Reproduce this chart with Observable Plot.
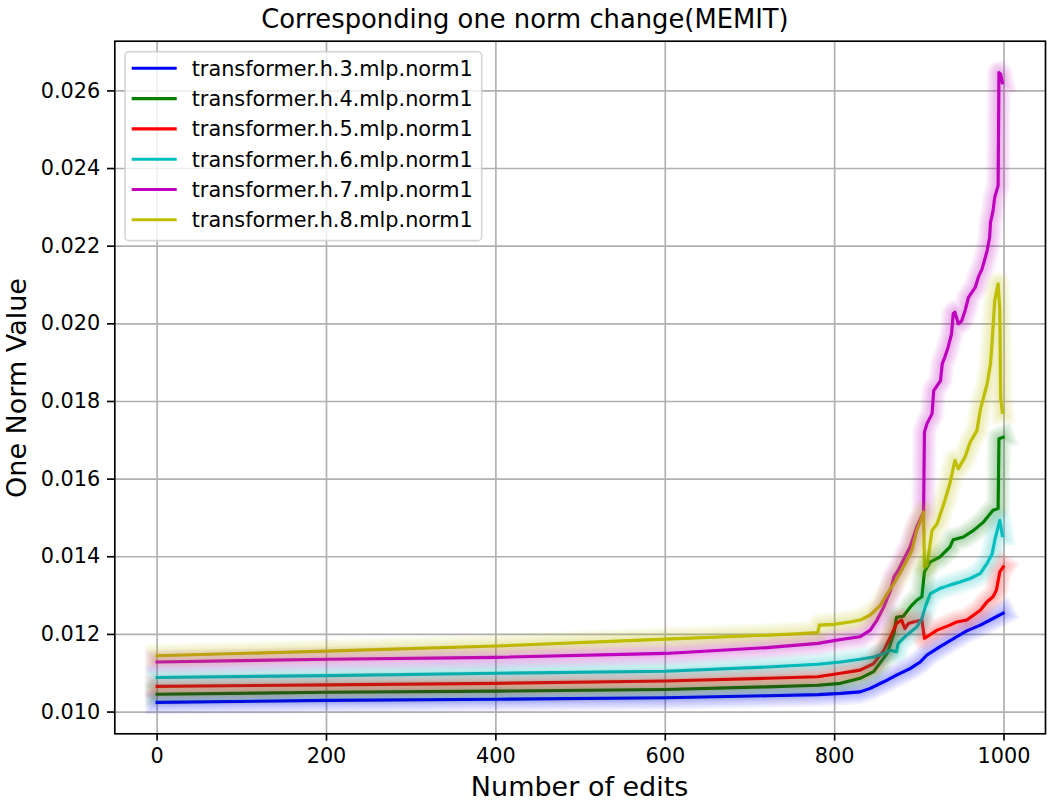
<!DOCTYPE html>
<html>
<head>
<meta charset="utf-8">
<script src="https://cdn.jsdelivr.net/npm/d3@7"></script>
<script src="https://cdn.jsdelivr.net/npm/@observablehq/plot@0.6"></script>
<style>
  body { margin: 0; background: #fff; }
  #chart { width: 1050px; height: 804px; }
</style>
</head>
<body>
<div id="chart"></div>
<script>
// ---- data ----
const names = [
  "transformer.h.3.mlp.norm1",
  "transformer.h.4.mlp.norm1",
  "transformer.h.5.mlp.norm1",
  "transformer.h.6.mlp.norm1",
  "transformer.h.7.mlp.norm1",
  "transformer.h.8.mlp.norm1"
];
const colors = ["#0000ff", "#008000", "#ff0000", "#00bfbf", "#bf00bf", "#bfbf00"];

const h3x = [0,200,400,600,720,780,807,830,842,858,873,889,901,909,924,944,956,972,987,999];
const h3y = [0.01025,0.01030,0.01033,0.01037,0.01042,0.01045,0.01048,0.01052,0.01061,0.01078,0.01095,0.01112,0.01129,0.01147,0.01168,0.01194,0.01209,0.01224,0.01241,0.01255];

const h4x = [0,200,400,600,720,780,807,830,846,862,870,873,881,885,891,897,903,906,913,924,936,940,952,964,976,987,993,994,999];
const h4y = [0.01046,0.01051,0.01054,0.01058,0.01065,0.01069,0.01074,0.01087,0.01104,0.01151,0.01202,0.01244,0.01247,0.01258,0.01275,0.01288,0.01297,0.01361,0.01387,0.01399,0.01425,0.01444,0.01451,0.01468,0.01490,0.01520,0.01524,0.01704,0.01708];

const h5x = [0,200,400,600,720,780,807,830,846,858,866,873,879,883,887,893,903,906,909,921,936,944,956,972,980,987,991,995,999];
const h5y = [0.01066,0.01070,0.01074,0.01080,0.01087,0.01091,0.01100,0.01108,0.01125,0.01159,0.01194,0.01228,0.01237,0.01215,0.01228,0.01232,0.01237,0.01190,0.01194,0.01211,0.01224,0.01232,0.01237,0.01262,0.01284,0.01297,0.01314,0.01361,0.01374];

const h6x = [0,200,400,600,720,780,807,830,846,858,866,873,875,885,897,903,907,913,924,936,948,960,972,980,986,989,995,998];
const h6y = [0.01089,0.01094,0.01100,0.01105,0.01116,0.01123,0.01129,0.01136,0.01142,0.01151,0.01159,0.01155,0.01177,0.01198,0.01219,0.01241,0.01271,0.01305,0.01318,0.01327,0.01335,0.01344,0.01357,0.01383,0.01408,0.01442,0.01494,0.01455];

const h7x = [0,200,400,600,720,780,807,830,842,850,858,866,870,875,881,889,897,905,906,909,915,917,925,927,930,934,938,940,942,946,950,954,958,962,966,970,974,980,983,984,987,989,993,994,996,998];
const h7y = [0.01129,0.01136,0.01141,0.01151,0.01166,0.01177,0.01187,0.01194,0.01211,0.01237,0.01271,0.01314,0.01348,0.01365,0.01391,0.01425,0.01477,0.01515,0.01721,0.01743,0.01768,0.01828,0.01854,0.01897,0.01914,0.01940,0.01974,0.02026,0.02030,0.02000,0.02008,0.02034,0.02068,0.02081,0.02094,0.02122,0.02141,0.02188,0.02223,0.02261,0.02291,0.02326,0.02356,0.02647,0.02643,0.02621];

const h8x = [0,200,400,600,720,760,780,782,800,818,830,842,854,862,870,877,885,891,897,903,905,906,909,915,921,929,936,942,946,954,960,968,972,980,984,986,989,993,995,996,998];
const h8y = [0.01145,0.01157,0.01170,0.01188,0.01198,0.01202,0.01205,0.01224,0.01226,0.01232,0.01237,0.01250,0.01275,0.01305,0.01331,0.01357,0.01390,0.01415,0.01468,0.01502,0.01515,0.01374,0.01378,0.01468,0.01485,0.01537,0.01588,0.01648,0.01627,0.01657,0.01695,0.01725,0.01779,0.01845,0.01897,0.01957,0.02060,0.02103,0.02034,0.01811,0.01772];

const xTicks = [0, 200, 400, 600, 800, 1000];
const yTicks = [0.010, 0.012, 0.014, 0.016, 0.018, 0.020, 0.022, 0.024, 0.026];

const titleText = "Corresponding one norm change(MEMIT)";
const xLabel = "Number of edits";
const yLabel = "One Norm Value";

// ---- build ----
const xs = [h3x, h4x, h5x, h6x, h7x, h8x];
const ys = [h3y, h4y, h5y, h6y, h7y, h8y];
const seriesData = xs.map((xa, i) => xa.map((x, j) => ({x, y: ys[i][j], s: names[i]})));

const PT = 150 / 72;           // points -> pixels
const lw = 1.5 * PT;

const mainLines = seriesData.map((d, i) => Plot.line(d, {
  x: "x", y: "y", stroke: colors[i], strokeWidth: lw,
  strokeLinecap: "square", strokeLinejoin: "round", clip: true
}));

const glowLines = [];
seriesData.forEach((d, i) => {
  for (let n = 1; n <= 10; n++) {
    glowLines.push(Plot.line(d, {
      x: "x", y: "y", stroke: colors[i], strokeWidth: lw + 1.05 * PT * n,
      strokeOpacity: 0.03, strokeLinecap: "square", strokeLinejoin: "round", clip: true
    }));
  }
});

const chart = Plot.plot({
  width: 1050,
  height: 804,
  marginLeft: 114.3,
  marginRight: 5,
  marginTop: 40.7,
  marginBottom: 70.7,
  style: {fontFamily: "DejaVu Sans", fontSize: "20.8px", color: "black", background: "white"},
  x: {domain: [-49.95, 1048.95]},
  y: {domain: [0.00944, 0.02728]},
  marks: [
    Plot.gridX(xTicks, {stroke: "#b0b0b0", strokeOpacity: 1, strokeWidth: 0.8 * PT}),
    Plot.gridY(yTicks, {stroke: "#b0b0b0", strokeOpacity: 1, strokeWidth: 0.8 * PT}),
    ...mainLines,
    ...glowLines,
    Plot.frame({stroke: "black", strokeWidth: 0.8 * PT}),
    Plot.axisX({ticks: xTicks, tickSize: 3.5 * PT, tickPadding: 3.5 * PT, label: null, strokeWidth: 0.8 * PT, tickFormat: d3.format("d")}),
    Plot.axisY({ticks: yTicks, tickSize: 3.5 * PT, tickPadding: 3.5 * PT, label: null, strokeWidth: 0.8 * PT, tickFormat: d3.format(".3f")})
  ]
});

document.getElementById("chart").appendChild(chart);

// ---- title, axis labels, legend ----
const svg = d3.select(chart);
const cx = (114.3 + 1045) / 2;
svg.append("text").attr("x", 525).attr("y", 28.3).attr("text-anchor", "middle")
  .attr("font-size", 25.8).attr("fill", "black").text(titleText);
svg.append("text").attr("x", cx).attr("y", 796).attr("text-anchor", "middle")
  .attr("font-size", 27).attr("fill", "black").text(xLabel);
svg.append("text").attr("transform", "translate(26,388) rotate(-90)").attr("text-anchor", "middle")
  .attr("font-size", 27).attr("fill", "black").text(yLabel);

const lg = svg.append("g");
lg.append("rect").attr("x", 125).attr("y", 51.7).attr("width", 356.7).attr("height", 189)
  .attr("rx", 4).attr("fill", "white").attr("fill-opacity", 0.8)
  .attr("stroke", "#cccccc").attr("stroke-opacity", 0.8).attr("stroke-width", 0.8 * PT);
names.forEach((nm, i) => {
  const ry = 68.3 + i * 30.3;
  lg.append("line").attr("x1", 131.7).attr("x2", 176.7).attr("y1", ry).attr("y2", ry)
    .attr("stroke", colors[i]).attr("stroke-width", lw);
  lg.append("text").attr("x", 191.7).attr("y", ry + 7.4).attr("font-size", 20.8)
    .attr("text-anchor", "start").attr("fill", "black").text(nm);
});
</script>
</body>
</html>
